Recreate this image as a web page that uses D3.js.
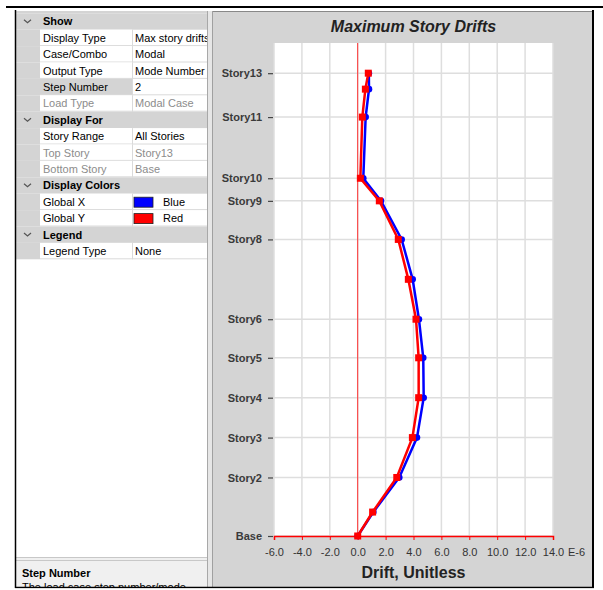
<!doctype html>
<html>
  <head>
    <meta charset="utf-8">
    <title>Maximum Story Drifts</title>
    <script src="https://cdn.jsdelivr.net/npm/d3@7/dist/d3.min.js"></script>
    <style>
      body { margin: 0; background: #fff; }
      text { font-family: "Liberation Sans", Arial, sans-serif; }
    </style>
  </head>
  <body>
    <div id="svgContainer"></div>
  </body>
  <script>
    // stories, bottom to top, with elevations (m)
    var stories = ["Base", "Story1", "Story2", "Story3", "Story4", "Story5", "Story6",
      "Story7", "Story8", "Story9", "Story10", "Story11", "Story12", "Story13"];
    var elevations = [0, 1.8, 4.4, 7.4, 10.4, 13.4, 16.3, 19.3, 22.3, 25.2, 26.9, 31.5, 33.6, 34.8];
    var labeledStories = ["Base", "Story2", "Story3", "Story4", "Story5", "Story6",
      "Story8", "Story9", "Story10", "Story11", "Story13"];

    // drifts in E-6
    var driftGlobalX = [0, 1.12, 2.98, 4.25, 4.73, 4.70, 4.39, 3.94, 3.15, 1.67, 0.40, 0.57, 0.81, 0.80];
    var driftGlobalY = [0, 1.07, 2.80, 3.92, 4.37, 4.37, 4.18, 3.63, 2.91, 1.55, 0.19, 0.33, 0.55, 0.76];

    var xTicks = [-6, -4, -2, 0, 2, 4, 6, 8, 10, 12, 14];

    // property grid rows
    var gridNames = ["Show", "Display Type", "Case/Combo", "Output Type", "Step Number", "Load Type",
      "Display For", "Story Range", "Top Story", "Bottom Story",
      "Display Colors", "Global X", "Global Y", "Legend", "Legend Type"];
    var gridValues = ["", "Max story drifts", "Modal", "Mode Number", "2", "Modal Case",
      "", "All Stories", "Story13", "Base",
      "", "Blue", "Red", "", "None"];
    var gridHeaders = ["Show", "Display For", "Display Colors", "Legend"];
    var gridDisabled = ["Load Type", "Top Story", "Bottom Story"];
    var gridSwatches = {"Global X": "#0000ff", "Global Y": "#ff0000"};

    var width = 603, height = 590;

    var svg = d3.select("#svgContainer")
                .append("svg")
                .attr("width", width)
                .attr("height", height);

    // ---------- left property panel ----------
    var rowTop = 13.3, rowH = 16.4;
    var pL = 16, pR = 207, gutter = 40, valX = 132;

    svg.append("clipPath").attr("id", "panelClip")
      .append("rect").attr("x", pL).attr("y", 10).attr("width", pR - pL).attr("height", 577);

    var panel = svg.append("g").attr("clip-path", "url(#panelClip)");

    panel.append("rect").attr("x", pL).attr("y", 11).attr("width", pR - pL).attr("height", 576)
      .attr("fill", "#fff");
    panel.append("rect").attr("x", pL).attr("y", 11).attr("width", pR - pL).attr("height", rowTop - 11)
      .attr("fill", "#d4d4d4");

    gridNames.forEach(function(name, i) {
      var y = rowTop + i * rowH;
      var isHeader = gridHeaders.indexOf(name) >= 0;
      var disabled = gridDisabled.indexOf(name) >= 0;
      if (isHeader) {
        panel.append("rect").attr("x", pL).attr("y", y).attr("width", pR - pL).attr("height", rowH)
          .attr("fill", "#d4d4d4");
        panel.append("path")
          .attr("d", "M" + 24 + "," + (y + 6.5) + "L" + 27.5 + "," + (y + 9.5) + "L" + 31 + "," + (y + 6.5))
          .attr("fill", "none").attr("stroke", "#555").attr("stroke-width", 1.2);
        panel.append("text").attr("x", 43).attr("y", y + 12)
          .attr("font-size", 11).attr("font-weight", "bold").attr("fill", "#000").text(name);
        return;
      }
      panel.append("rect").attr("x", pL).attr("y", y).attr("width", gutter - pL).attr("height", rowH)
        .attr("fill", "#d4d4d4");
      panel.append("rect").attr("x", gutter).attr("y", y).attr("width", valX - gutter).attr("height", rowH)
        .attr("fill", name === "Step Number" ? "#d4d4d4" : "#fff");
      panel.append("line").attr("x1", gutter).attr("x2", pR).attr("y1", y + rowH - 0.5).attr("y2", y + rowH - 0.5)
        .attr("stroke", "#dadada");
      panel.append("line").attr("x1", valX + 0.5).attr("x2", valX + 0.5).attr("y1", y).attr("y2", y + rowH)
        .attr("stroke", "#dadada");
      panel.append("text").attr("x", 43).attr("y", y + 12).attr("font-size", 11)
        .attr("fill", disabled ? "#8c8c8c" : "#000").text(name);
      var vx = 135;
      if (gridSwatches[name]) {
        panel.append("rect").attr("x", 134).attr("y", y + 3.5).attr("width", 19).attr("height", 10)
          .attr("fill", gridSwatches[name]).attr("stroke", "#222").attr("stroke-width", 0.8);
        vx = 163;
      }
      panel.append("text").attr("x", vx).attr("y", y + 12).attr("font-size", 11)
        .attr("fill", disabled ? "#8c8c8c" : "#000").text(gridValues[i]);
    });

    // description box
    panel.append("rect").attr("x", pL).attr("y", 557).attr("width", pR - pL).attr("height", 30)
      .attr("fill", "#f0f0f0");
    panel.append("line").attr("x1", pL).attr("x2", pR).attr("y1", 557.5).attr("y2", 557.5).attr("stroke", "#c8c8c8");
    panel.append("line").attr("x1", pL).attr("x2", pR).attr("y1", 560.5).attr("y2", 560.5).attr("stroke", "#c8c8c8");
    panel.append("text").attr("x", 22).attr("y", 577).attr("font-size", 11).attr("font-weight", "bold")
      .text("Step Number");
    panel.append("text").attr("x", 22).attr("y", 591).attr("font-size", 11)
      .text("The load case step number/mode");

    // splitter
    svg.append("line").attr("x1", pR + 0.5).attr("x2", pR + 0.5).attr("y1", 11).attr("y2", 587).attr("stroke", "#a8a8a8");
    svg.append("rect").attr("x", pR + 1).attr("y", 11).attr("width", 5).attr("height", 576).attr("fill", "#e6e6e6");
    svg.append("line").attr("x1", 212.5).attr("x2", 212.5).attr("y1", 11).attr("y2", 587).attr("stroke", "#a0a0a0");

    // ---------- chart panel ----------
    svg.append("rect").attr("x", 213).attr("y", 11).attr("width", 380).attr("height", 576)
      .attr("fill", "#d4d4d4");
    svg.append("line").attr("x1", 213).attr("x2", 593).attr("y1", 11.5).attr("y2", 11.5).attr("stroke", "#888");

    var plotL = 274, plotR = 553, plotT = 43, plotB = 536;

    var x = d3.scaleLinear().domain([-6, 14]).range([plotL, plotR]);
    var y = d3.scaleLinear().domain([0, 37.07]).range([plotB, plotT]);

    var chart = svg.append("g");

    chart.append("rect").attr("x", plotL).attr("y", plotT).attr("width", plotR - plotL).attr("height", plotB - plotT)
      .attr("fill", "#fff");

    // grid
    chart.append("g").selectAll("line").data(xTicks).enter().append("line")
      .attr("x1", function(d) { return x(d); })
      .attr("x2", function(d) { return x(d); })
      .attr("y1", plotT).attr("y2", plotB)
      .attr("stroke", "#dedede").attr("stroke-width", 1.5);

    var labeledIdx = labeledStories.map(function(s) { return stories.indexOf(s); });

    chart.append("g").selectAll("line").data(labeledIdx).enter().append("line")
      .attr("x1", plotL).attr("x2", plotR)
      .attr("y1", function(i) { return y(elevations[i]); })
      .attr("y2", function(i) { return y(elevations[i]); })
      .attr("stroke", "#dedede").attr("stroke-width", 1.5);

    // y axis labels with dash ticks
    var yAxis = d3.axisLeft(y)
      .tickValues(labeledIdx.map(function(i) { return elevations[i]; }))
      .tickFormat(function(d) { return stories[elevations.indexOf(d)]; })
      .tickSize(5)
      .tickPadding(6);
    var yg = chart.append("g").attr("transform", "translate(" + (plotL - 1) + ",0)").call(yAxis);
    yg.select(".domain").remove();
    yg.selectAll("line").attr("stroke", "#444").attr("stroke-width", 1.2);
    yg.selectAll("text").attr("font-family", "Liberation Sans, Arial, sans-serif")
      .attr("font-size", 11).attr("font-weight", "bold").attr("fill", "#3a3a3a");

    // x axis
    var xAxis = d3.axisBottom(x)
      .tickValues(xTicks)
      .tickFormat(d3.format(".1f"))
      .tickSize(4)
      .tickPadding(8);
    var xg = chart.append("g").attr("transform", "translate(0," + plotB + ")").call(xAxis);
    xg.select(".domain").attr("stroke", "#ff0000").attr("stroke-width", 1.5);
    xg.selectAll("line").attr("stroke", "#ff0000");
    xg.selectAll("text").attr("font-family", "Liberation Sans, Arial, sans-serif")
      .attr("font-size", 11).attr("fill", "#333")
      .text(function(d) { return d3.format(".1f")(d).replace("−", "-"); });
    xg.append("text").attr("x", x(14) + 15).attr("y", 12).attr("dy", "0.71em").attr("text-anchor", "start")
      .attr("font-family", "Liberation Sans, Arial, sans-serif")
      .attr("font-size", 11).attr("fill", "#333").text("E-6");

    // zero line
    chart.append("line").attr("x1", x(0)).attr("x2", x(0)).attr("y1", plotT).attr("y2", plotB)
      .attr("stroke", "#ff3030").attr("stroke-width", 1);

    // series
    var line = d3.line()
      .x(function(d) { return x(d.v); })
      .y(function(d) { return y(d.e); });

    var seriesX = driftGlobalX.map(function(v, i) { return {v: v, e: elevations[i]}; });
    var seriesY = driftGlobalY.map(function(v, i) { return {v: v, e: elevations[i]}; });

    chart.append("path").datum(seriesX).attr("d", line)
      .attr("fill", "none").attr("stroke", "#0000ff").attr("stroke-width", 2.5);
    chart.append("g").selectAll("circle").data(seriesX).enter().append("circle")
      .attr("cx", function(d) { return x(d.v); })
      .attr("cy", function(d) { return y(d.e); })
      .attr("r", 3.3).attr("fill", "#0000ff");

    chart.append("path").datum(seriesY).attr("d", line)
      .attr("fill", "none").attr("stroke", "#ff0000").attr("stroke-width", 2.5);
    chart.append("g").selectAll("rect").data(seriesY).enter().append("rect")
      .attr("x", function(d) { return x(d.v) - 3.5; })
      .attr("y", function(d) { return y(d.e) - 3.5; })
      .attr("width", 7).attr("height", 7).attr("fill", "#ff0000");

    // titles
    chart.append("text").attr("x", (plotL + plotR) / 2).attr("y", 32).attr("text-anchor", "middle")
      .attr("font-size", 16).attr("font-weight", "bold").attr("font-style", "italic").attr("fill", "#222")
      .text("Maximum Story Drifts");
    chart.append("text").attr("x", (plotL + plotR) / 2).attr("y", 578).attr("text-anchor", "middle")
      .attr("font-size", 16).attr("font-weight", "bold").attr("fill", "#222")
      .text("Drift, Unitless");

    // ---------- outer frame ----------
    svg.append("line").attr("x1", 6).attr("x2", 603).attr("y1", 7).attr("y2", 7)
      .attr("stroke", "#000").attr("stroke-width", 2);
    svg.append("line").attr("x1", 15.5).attr("x2", 15.5).attr("y1", 10).attr("y2", 588)
      .attr("stroke", "#000").attr("stroke-width", 1.5);
    svg.append("line").attr("x1", 593).attr("x2", 593).attr("y1", 10).attr("y2", 588)
      .attr("stroke", "#000").attr("stroke-width", 2);
    svg.append("line").attr("x1", 15).attr("x2", 594).attr("y1", 587.5).attr("y2", 587.5)
      .attr("stroke", "#000").attr("stroke-width", 1.5);
    svg.append("rect").attr("x", 0).attr("y", 588.5).attr("width", 603).attr("height", 2).attr("fill", "#fff");
  </script>
</html>
